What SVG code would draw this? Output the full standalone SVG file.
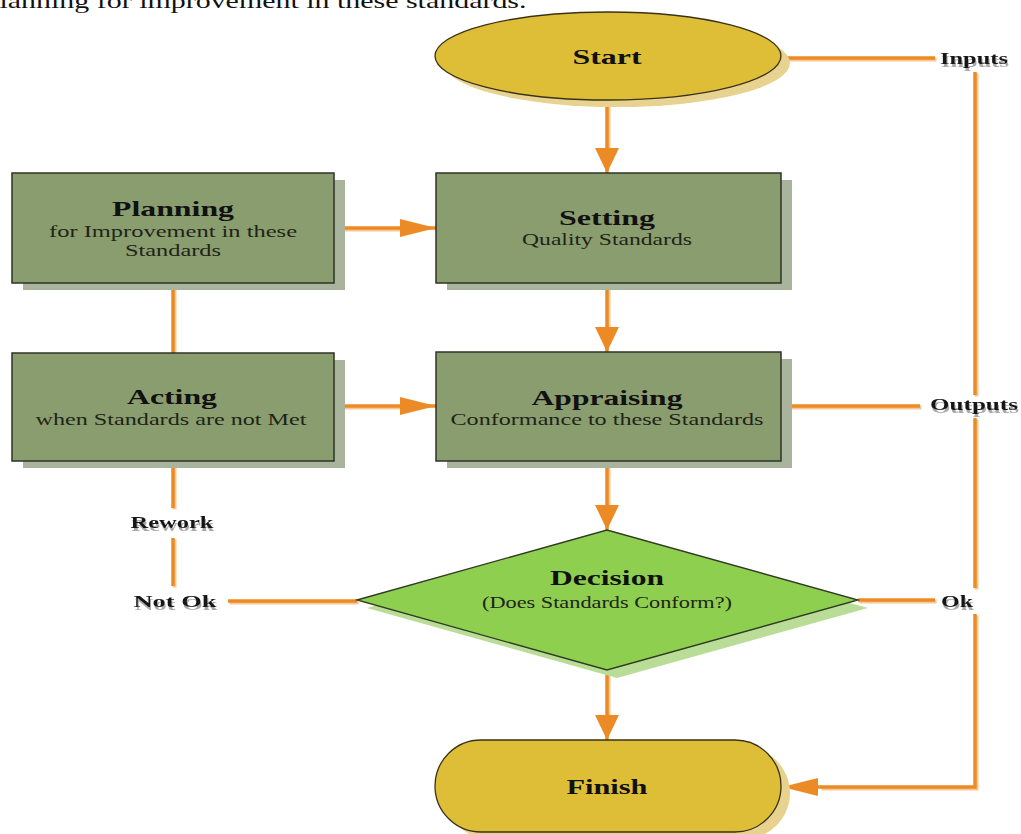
<svg xmlns="http://www.w3.org/2000/svg" width="1021" height="834" viewBox="0 0 1021 834">
  <style>
    text { font-family: "Liberation Serif", "Times New Roman", serif; text-anchor: middle; }
    .title { font-size: 22px; font-weight: bold; fill: #111; }
    .sub { font-size: 17px; fill: #1e2418; }
    .lbl { font-size: 17.5px; font-weight: bold; fill: #151515; filter: url(#echo); }
    .box { fill: #8a9d6e; stroke: #2e3328; stroke-width: 1.5; }
    .box-sh { fill: #a9b49c; }
    .term { fill: #dfbe37; stroke: #3a3218; stroke-width: 1.3; }
    .term-sh { fill: #e7d38f; }
    .dia { fill: #8fcf50; stroke: #2f3a22; stroke-width: 1.3; }
    .dia-sh { fill: #b9dd97; }
    .wire { fill: none; stroke: #ec8b25; stroke-width: 3.5; }
    .wire-sh { fill: none; stroke: #f7c795; stroke-width: 4; }
  </style>
  <defs>
    <!-- arrowheads: long/narrow for horizontal runs, short/wide for vertical runs -->
    <marker id="arrowV" markerUnits="userSpaceOnUse" markerWidth="26" markerHeight="24" refX="25" refY="12" orient="auto" viewBox="0 0 26 24">
      <path d="M0,0 L25,12 L0,24 Z" fill="#ec8b25"/>
    </marker>
    <marker id="arrowH" markerUnits="userSpaceOnUse" markerWidth="37" markerHeight="18" refX="36" refY="9" orient="auto" viewBox="0 0 37 18">
      <path d="M0,0 L36,9 L0,18 Z" fill="#ec8b25"/>
    </marker>
    <!-- grey echo drawn just below the connector labels -->
    <filter id="echo" x="-20%" y="-60%" width="140%" height="220%">
      <feOffset in="SourceAlpha" dx="1" dy="3" result="off"/>
      <feFlood flood-color="#8c8c8c" flood-opacity="0.75"/>
      <feComposite operator="in" in2="off" result="grey"/>
      <feMerge>
        <feMergeNode in="grey"/>
        <feMergeNode in="SourceGraphic"/>
      </feMerge>
    </filter>
  </defs>

  <rect width="1021" height="834" fill="#ffffff"/>

  <!-- running text above the chart -->
  <text x="263" y="8" style="font-size:22px" fill="#111" textLength="527" lengthAdjust="spacingAndGlyphs">lanning for improvement in these standards.</text>

  <!-- connectors -->
  <g id="connectors">
    <!-- soft light edge under each line -->
    <g class="wire-sh" transform="translate(1.5,1.5)">
      <path d="M607,100 V150"/>
      <path d="M607,283 V330"/>
      <path d="M607,461 V508"/>
      <path d="M607,670 V717"/>
      <path d="M334,228 H402"/>
      <path d="M334,406 H402"/>
      <path d="M173,283 V353"/>
      <path d="M173,461 V508"/>
      <path d="M173,538 V586"/>
      <path d="M228,601 H357"/>
      <path d="M781,58 H935"/>
      <path d="M781,406 H920"/>
      <path d="M858,600 H935"/>
      <path d="M975,72 V395"/>
      <path d="M975,418 V588"/>
      <path d="M975,614 V787 H820"/>
    </g>
    <path class="wire" d="M607,100 V173" marker-end="url(#arrowV)"/>
    <path class="wire" d="M607,283 V352" marker-end="url(#arrowV)"/>
    <path class="wire" d="M607,461 V530" marker-end="url(#arrowV)"/>
    <path class="wire" d="M607,670 V740" marker-end="url(#arrowV)"/>
    <path class="wire" d="M334,228 H436" marker-end="url(#arrowH)"/>
    <path class="wire" d="M334,406 H436" marker-end="url(#arrowH)"/>
    <path class="wire" d="M173,283 V353"/>
    <path class="wire" d="M173,461 V508"/>
    <path class="wire" d="M173,538 V586"/>
    <path class="wire" d="M228,601 H357"/>
    <path class="wire" d="M781,58 H935"/>
    <path class="wire" d="M781,406 H920"/>
    <path class="wire" d="M858,600 H935"/>
    <path class="wire" d="M975,72 V395"/>
    <path class="wire" d="M975,418 V588"/>
    <path class="wire" d="M975,614 V787 H782" marker-end="url(#arrowH)"/>

    <!-- connector labels -->
    <text id="label-inputs" class="lbl" x="974" y="64" textLength="68" lengthAdjust="spacingAndGlyphs">Inputs</text>
    <text id="label-outputs" class="lbl" x="974" y="410" textLength="88" lengthAdjust="spacingAndGlyphs">Outputs</text>
    <text id="label-ok" class="lbl" x="957" y="607" textLength="32" lengthAdjust="spacingAndGlyphs">Ok</text>
    <text id="label-rework" class="lbl" x="172" y="528" textLength="83" lengthAdjust="spacingAndGlyphs">Rework</text>
    <text id="label-notok" class="lbl" x="175" y="607" textLength="83" lengthAdjust="spacingAndGlyphs">Not Ok</text>
  </g>

  <!-- nodes -->
  <g id="start">
    <ellipse class="term-sh" cx="617" cy="63" rx="173" ry="44"/>
    <ellipse class="term" cx="608" cy="56" rx="173" ry="44"/>
    <text class="title" x="607" y="64" textLength="69" lengthAdjust="spacingAndGlyphs">Start</text>
  </g>

  <g id="planning">
    <rect class="box-sh" x="23" y="180" width="322" height="110"/>
    <rect class="box" x="12" y="173" width="322" height="110"/>
    <text class="title" x="173" y="216" textLength="122" lengthAdjust="spacingAndGlyphs">Planning</text>
    <text class="sub" x="173" y="237" textLength="248" lengthAdjust="spacingAndGlyphs">for Improvement in these</text>
    <text class="sub" x="173" y="256" textLength="96" lengthAdjust="spacingAndGlyphs">Standards</text>
  </g>

  <g id="setting">
    <rect class="box-sh" x="447" y="180" width="345" height="110"/>
    <rect class="box" x="436" y="173" width="345" height="110"/>
    <text class="title" x="607" y="225" textLength="96" lengthAdjust="spacingAndGlyphs">Setting</text>
    <text class="sub" x="607" y="245" textLength="170" lengthAdjust="spacingAndGlyphs">Quality Standards</text>
  </g>

  <g id="acting">
    <rect class="box-sh" x="23" y="360" width="322" height="108"/>
    <rect class="box" x="12" y="353" width="322" height="108"/>
    <text class="title" x="172" y="404" textLength="90" lengthAdjust="spacingAndGlyphs">Acting</text>
    <text class="sub" x="171" y="425" textLength="271" lengthAdjust="spacingAndGlyphs">when Standards are not Met</text>
  </g>

  <g id="appraising">
    <rect class="box-sh" x="447" y="359" width="345" height="109"/>
    <rect class="box" x="436" y="352" width="345" height="109"/>
    <text class="title" x="607" y="405" textLength="151" lengthAdjust="spacingAndGlyphs">Appraising</text>
    <text class="sub" x="607" y="425" textLength="313" lengthAdjust="spacingAndGlyphs">Conformance to these Standards</text>
  </g>

  <g id="decision">
    <polygon class="dia-sh" points="367,608 617,538 868,608 617,678"/>
    <polygon class="dia" points="357,600 607,530 858,600 607,670"/>
    <text class="title" x="607" y="585" textLength="114" lengthAdjust="spacingAndGlyphs">Decision</text>
    <text class="sub" x="607" y="608" textLength="250" lengthAdjust="spacingAndGlyphs">(Does Standards Conform?)</text>
  </g>

  <g id="finish">
    <rect class="term-sh" x="444" y="747" width="346" height="92" rx="46" ry="46"/>
    <rect class="term" x="435" y="740" width="346" height="92" rx="46" ry="46"/>
    <text class="title" x="607" y="794" textLength="81" lengthAdjust="spacingAndGlyphs">Finish</text>
  </g>
</svg>
